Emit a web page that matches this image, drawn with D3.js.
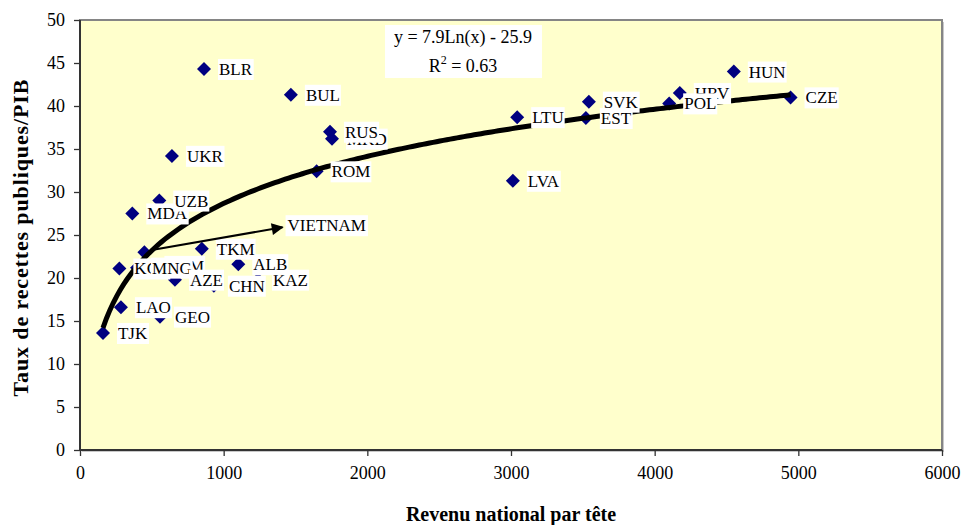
<!DOCTYPE html>
<html><head><meta charset="utf-8">
<script src="https://cdn.jsdelivr.net/npm/d3@7"></script>
<style>body{margin:0;background:#fff}svg{display:block}</style>
</head><body>
<svg id="c" width="963" height="525"></svg>
<script>
// ---- data ----
const countries = ["TJK","LAO","GEO","KGZ","ARM","MNG","AZE","CHN","KAZ","ALB","TKM","VNM","MDA","UZB","UKR","BLR","BUL","ROM","MKD","RUS","LVA","LTU","EST","SVK","HRV","POL","HUN","CZE"];
const income = [160,285,557,274,490,397,661,932,1239,1102,848,448,364,552,640,863,1468,1647,1754,1740,3013,3043,3521,3542,4175,4101,4551,4946];
const taxRatio = [13.6,16.6,15.5,21.1,21.4,21.2,19.8,19.1,19.8,21.6,23.4,23.0,27.5,29.0,34.2,44.3,41.3,32.4,36.2,37.0,31.3,38.7,38.6,40.5,41.5,40.3,44.0,41.0];
const pointLabels = ["TJK","LAO","GEO","KGZ","ARM","MNG","AZE","CHN","KAZ","ALB","TKM","","MDA","UZB","UKR","BLR","BUL","ROM","MKD","RUS","LVA","LTU","EST","SVK","HRV","POL","HUN","CZE"];
const xTicks = [0,1000,2000,3000,4000,5000,6000];
const yTicks = [0,5,10,15,20,25,30,35,40,45,50];
const trendCoef = [7.9, -25.9];   // y = a ln(x) + b
const rSquared = 0.63;
const annotationText = "VIETNAM";
const annotationFrom = "VNM";
const annotationTo = [1410, 25.9];
const xTitle = "Revenu national par tête";
const yTitle = "Taux de recettes publiques/PIB";

// ---- layout ----
const svg = d3.select("#c");
const L = 80, R = 942, T = 20, B = 450;
const x = d3.scaleLinear().domain([0,6000]).range([L,R]);
const y = d3.scaleLinear().domain([0,50]).range([B,T]);
const serif = "'Liberation Serif','Times New Roman',serif";

svg.append("defs").append("marker").attr("id","ah")
  .attr("viewBox","0 0 10 10").attr("refX",9).attr("refY",5)
  .attr("markerWidth",7).attr("markerHeight",6).attr("orient","auto")
  .attr("markerUnits","strokeWidth")
  .append("path").attr("d","M0,0 L10,5 L0,10 z").attr("fill","#000");

// plot area
svg.append("rect").attr("x",L+2).attr("y",T+2).attr("width",R-L).attr("height",B-T).attr("fill","#c8c8c8");
svg.append("rect").attr("x",L).attr("y",T).attr("width",R-L).attr("height",B-T)
  .attr("fill","#ffffcc").attr("stroke","#858585").attr("stroke-width",2);

// axes
const xAxis = d3.axisBottom(x).tickValues(xTicks).tickSize(6).tickPadding(10).tickFormat(d3.format("d"));
const yAxis = d3.axisLeft(y).tickValues(yTicks).tickSize(6).tickPadding(9).tickFormat(d3.format("d"));
const gx = svg.append("g").attr("transform",`translate(0,${B})`).call(xAxis);
const gy = svg.append("g").attr("transform",`translate(${L},0)`).call(yAxis);
[gx,gy].forEach(g=>{
  g.select(".domain").attr("stroke","#333").attr("stroke-width",2);
  g.selectAll(".tick line").attr("stroke","#333").attr("stroke-width",1.3);
  g.selectAll(".tick text").attr("font-family",serif).attr("font-size",18).attr("fill","#000");
});
gy.select(".domain").attr("d",`M0,${B}V${T}`);
gx.select(".domain").attr("d",`M${L},0H${R}`);

// markers
const data = countries.map((c,i)=>({c, x:income[i], y:taxRatio[i], label:pointLabels[i]}));
svg.append("g").selectAll("path").data(data).join("path")
  .attr("d", d3.symbol(d3.symbolSquare, 98))
  .attr("transform", d=>`translate(${x(d.x)},${y(d.y)}) rotate(45)`)
  .attr("fill","#000080");

// trend line
const [xmin,xmax] = d3.extent(income);
const trendPts = d3.range(0,201).map(k=>{const xv = xmin + (xmax-xmin)*k/200; return [xv, trendCoef[0]*Math.log(xv)+trendCoef[1]];});
svg.append("path").datum(trendPts)
  .attr("d", d3.line().x(d=>x(d[0])).y(d=>y(d[1])))
  .attr("fill","none").attr("stroke","#000").attr("stroke-width",5);

// labels
const lg = svg.append("g");
data.filter(d=>d.label).forEach(d=>{
  const g = lg.append("g");
  const r = g.append("rect").attr("fill","#fff");
  const t = g.append("text").attr("x", x(d.x)+15).attr("y", y(d.y)).attr("dy","0.35em")
    .attr("font-family",serif).attr("font-size",17).attr("fill","#000").text(d.label);
  const bb = t.node().getBBox();
  r.attr("x",bb.x-1).attr("y",bb.y-1).attr("width",bb.width+2).attr("height",bb.height+2);
});

// Vietnam annotation
const vn = data.find(d=>d.c===annotationFrom);
svg.append("line").attr("x1",x(vn.x)+6).attr("y1",y(vn.y)-2)
  .attr("x2",x(annotationTo[0])).attr("y2",y(annotationTo[1]))
  .attr("stroke","#000").attr("stroke-width",2).attr("marker-end","url(#ah)");
{
  const g = svg.append("g");
  const r = g.append("rect").attr("fill","#fff");
  const t = g.append("text").attr("x",x(annotationTo[0])+5).attr("y",y(annotationTo[1])-2).attr("dy","0.35em")
    .attr("font-family",serif).attr("font-size",17).text(annotationText);
  const bb = t.node().getBBox();
  r.attr("x",bb.x-2).attr("y",bb.y-1).attr("width",bb.width+4).attr("height",bb.height+2);
}

// equation box
const eq = svg.append("g");
eq.append("rect").attr("x",385).attr("y",25).attr("width",157).attr("height",53).attr("fill","#fff");
eq.append("text").attr("x",463).attr("y",43).attr("text-anchor","middle")
  .attr("font-family",serif).attr("font-size",18)
  .text(`y = ${trendCoef[0]}Ln(x) - ${Math.abs(trendCoef[1])}`);
const t2 = eq.append("text").attr("x",463).attr("y",72).attr("text-anchor","middle")
  .attr("font-family",serif).attr("font-size",18);
t2.append("tspan").text("R");
t2.append("tspan").attr("font-size",12).attr("dy",-8).text("2");
t2.append("tspan").attr("dy",8).text(` = ${rSquared}`);

// titles
svg.append("text").attr("x",(L+R)/2).attr("y",521).attr("text-anchor","middle")
  .attr("font-family",serif).attr("font-weight","bold").attr("font-size",20).text(xTitle);
svg.append("text").attr("transform",`translate(28,238) rotate(-90)`).attr("text-anchor","middle")
  .attr("font-family",serif).attr("font-weight","bold").attr("font-size",22)
  .attr("textLength",317).attr("lengthAdjust","spacing").text(yTitle);
</script>
</body></html>
